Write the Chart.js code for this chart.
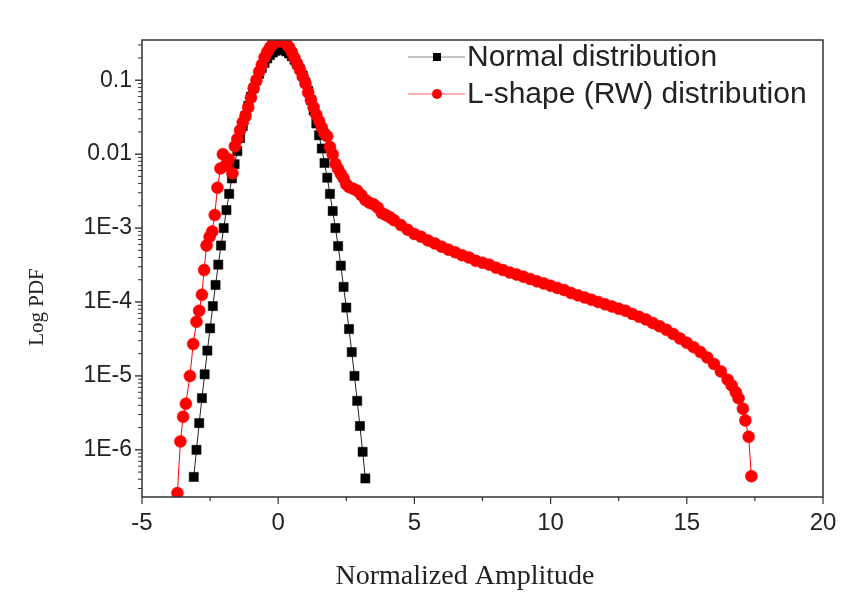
<!DOCTYPE html>
<html>
<head>
<meta charset="utf-8">
<script src="https://cdn.jsdelivr.net/npm/chart.js@4.4.1/dist/chart.umd.min.js"></script>
<style>
html, body { margin: 0; padding: 0; background: #fff; }
#wrap { width: 854px; height: 594px; }
</style>
</head>
<body>
<div id="wrap"><canvas id="pdfChart" width="854" height="594"></canvas></div>
<script>
// Normal distribution (black squares)
var normalX = [-3.1, -3.0, -2.9, -2.8, -2.7, -2.6, -2.5, -2.4, -2.3, -2.2, -2.1, -2.0, -1.9, -1.8, -1.7, -1.6,
    -1.5, -1.4, -1.3, -1.2, -1.1, -1.0, -0.9, -0.8, -0.7, -0.6, -0.5, -0.4, -0.3, -0.2, -0.1,
    0.0, 0.1, 0.2, 0.3, 0.4, 0.5, 0.6, 0.7, 0.8, 0.9, 1.0, 1.1, 1.2, 1.3, 1.4, 1.5, 1.6,
    1.7, 1.8, 1.9, 2.0, 2.1, 2.2, 2.3, 2.4, 2.5, 2.6, 2.7, 2.8, 2.9, 3.0, 3.1, 3.2];
var normalPdf = [4.3e-7, 1.0e-6, 2.3e-6, 5.0e-6, 1.05e-5, 2.2e-5, 4.4e-5, 8.8e-5, 1.7e-4, 3.2e-4, 5.8e-4, 1.0e-3, 1.75e-3, 2.9e-3, 4.7e-3, 7.3e-3,
    0.011, 0.0165, 0.024, 0.033, 0.045, 0.060, 0.078, 0.099, 0.122, 0.147, 0.172, 0.197, 0.219, 0.237, 0.250,
    0.258, 0.260, 0.255, 0.245, 0.230, 0.211, 0.189, 0.165, 0.140, 0.116, 0.093, 0.072, 0.054, 0.039, 0.026, 0.018, 0.0119,
    7.6e-3, 4.8e-3, 2.9e-3, 1.7e-3, 1.0e-3, 5.7e-4, 3.1e-4, 1.6e-4, 8.4e-5, 4.3e-5, 2.1e-5, 1.0e-5, 4.6e-6, 2.1e-6, 9.4e-7, 4.1e-7];

// L-shape (RW) distribution (red circles)
var rwX = [-3.70, -3.59, -3.49, -3.39, -3.24, -3.12, -3.00, -2.90, -2.80, -2.72, -2.63, -2.52, -2.42, -2.33, -2.23, -2.12,
    -2.03, -1.92, -1.82, -1.68, -1.59,
    -1.5, -1.4, -1.3, -1.2, -1.1, -1.0, -0.9, -0.8, -0.7, -0.6, -0.5, -0.4, -0.3, -0.2, -0.1,
    0.0, 0.1, 0.2, 0.3, 0.4, 0.5, 0.6, 0.7, 0.8, 0.9, 1.0, 1.1, 1.2, 1.3, 1.4, 1.5, 1.6, 1.7,
    1.8, 1.9, 2.0, 2.1, 2.2, 2.3, 2.4, 2.5, 2.6, 2.75, 2.9, 3.05, 3.2, 3.35, 3.5, 3.65, 3.8, 3.95, 4.1, 4.25,
    4.5, 4.75, 5.0, 5.25, 5.5, 5.75, 6.0, 6.25, 6.5, 6.75, 7.0, 7.25, 7.5, 7.75, 8.0, 8.25, 8.5, 8.75,
    9.0, 9.25, 9.5, 9.75, 10.0, 10.25, 10.5, 10.75, 11.0, 11.25, 11.5, 11.75, 12.0, 12.25, 12.5, 12.75,
    13.0, 13.25, 13.5, 13.75, 14.0, 14.25, 14.5, 14.75, 15.0, 15.25, 15.5, 15.75, 16.0, 16.25, 16.5,
    16.65, 16.8, 16.9, 17.06, 17.15, 17.27, 17.37];
var rwPdf = [2.6e-7, 1.3e-6, 2.8e-6, 4.2e-6, 1.0e-5, 2.7e-5, 5.4e-5, 7.6e-5, 1.25e-4, 2.7e-4, 5.8e-4, 7.6e-4, 9.0e-4, 1.5e-3, 3.5e-3, 6.4e-3,
    0.010, 7.0e-3, 8.5e-3, 5.5e-3, 0.0128,
    0.016, 0.021, 0.027, 0.033, 0.043, 0.058, 0.078, 0.100, 0.130, 0.162, 0.205, 0.243, 0.278, 0.310, 0.330,
    0.342, 0.340, 0.328, 0.310, 0.280, 0.240, 0.200, 0.165, 0.138, 0.112, 0.090, 0.068, 0.054, 0.043, 0.034, 0.028, 0.023, 0.019,
    0.0175, 0.0125, 0.0100, 0.0074, 0.0063, 0.0054, 0.0047, 0.0039, 0.0036, 0.0034, 0.0032, 0.0028, 0.0024, 0.0022, 0.0021, 0.0019, 0.0016, 0.0015, 0.0014, 0.00128,
    1.10e-3, 9.5e-4, 8.3e-4, 7.6e-4, 6.8e-4, 6.2e-4, 5.6e-4, 5.1e-4, 4.7e-4, 4.3e-4, 4.0e-4, 3.6e-4, 3.4e-4, 3.2e-4, 2.9e-4, 2.7e-4, 2.5e-4, 2.35e-4,
    2.2e-4, 2.05e-4, 1.9e-4, 1.78e-4, 1.66e-4, 1.55e-4, 1.45e-4, 1.32e-4, 1.23e-4, 1.15e-4, 1.07e-4, 1.0e-4, 9.3e-5, 8.7e-5, 8.1e-5, 7.6e-5,
    6.9e-5, 6.3e-5, 5.8e-5, 5.2e-5, 4.7e-5, 4.2e-5, 3.7e-5, 3.2e-5, 2.8e-5, 2.45e-5, 2.1e-5, 1.78e-5, 1.45e-5, 1.15e-5, 8.9e-6,
    7.4e-6, 6.0e-6, 5.0e-6, 3.6e-6, 2.5e-6, 1.5e-6, 4.4e-7];

// axis labels
var xTickValues = [-5, 0, 5, 10, 15, 20];
var yDecades = [-6, -5, -4, -3, -2, -1];
var yTickLabels = ['1E-6', '1E-5', '1E-4', '1E-3', '0.01', '0.1'];
var xTitle = 'Normalized Amplitude';
var yTitle = 'Log PDF';

function toPoints(xs, ys) {
    var pts = [];
    for (var i = 0; i < xs.length; i++) {
        pts.push({ x: xs[i], y: ys[i] });
    }
    return pts;
}

var axisColor = '#333';
var textColor = '#222';
var serif = "'Liberation Serif', 'Times New Roman', serif";

Chart.defaults.font.family = "'Liberation Sans', Arial, sans-serif";
Chart.defaults.color = textColor;

// frame round the plot, major/minor tick marks and the two axis titles
var framePlugin = {
    id: 'frame',
    afterDraw: function(chart) {
        var ctx = chart.ctx;
        var a = chart.chartArea;
        var xs = chart.scales.x;
        var ys = chart.scales.y;
        ctx.save();
        ctx.strokeStyle = axisColor;
        ctx.lineWidth = 1.5;
        ctx.strokeRect(a.left, a.top, a.right - a.left, a.bottom - a.top);

        ctx.lineWidth = 1.2;
        xs.ticks.forEach(function(t) {
            var px = xs.getPixelForValue(t.value);
            var len = (t.value % 5 === 0) ? 7 : 4;
            ctx.beginPath();
            ctx.moveTo(px, a.bottom);
            ctx.lineTo(px, a.bottom + len);
            ctx.stroke();
        });
        ys.ticks.forEach(function(t) {
            var py = ys.getPixelForValue(t.value);
            var e = Math.log10(t.value);
            var major = Math.abs(e - Math.round(e)) < 1e-6;
            ctx.lineWidth = major ? 1.4 : 1;
            ctx.beginPath();
            ctx.moveTo(a.left, py);
            ctx.lineTo(a.left - (major ? 7 : 4), py);
            ctx.stroke();
        });

        // axis titles (placed off-centre like the original figure)
        ctx.fillStyle = textColor;
        ctx.textAlign = 'center';
        ctx.textBaseline = 'middle';
        ctx.font = '28px ' + serif;
        ctx.fillText(xTitle, 465, 577);
        ctx.translate(37, 307);
        ctx.rotate(-Math.PI / 2);
        ctx.font = '21px ' + serif;
        ctx.fillText(yTitle, 0, 0);
        ctx.restore();
    }
};

// legend drawn inside the plot, line + marker + text like the original
var legendPlugin = {
    id: 'innerLegend',
    afterDraw: function(chart) {
        var ctx = chart.ctx;
        var rows = [57, 94];
        var x0 = 408, x1 = 465, xm = 437;
        ctx.save();
        chart.data.datasets.forEach(function(ds, i) {
            var y = rows[i];
            ctx.strokeStyle = ds.legendLine;
            ctx.lineWidth = 1;
            ctx.beginPath();
            ctx.moveTo(x0, y);
            ctx.lineTo(x1, y);
            ctx.stroke();
            ctx.fillStyle = ds.pointBackgroundColor;
            if (ds.pointStyle === 'rect') {
                ctx.fillRect(xm - 4, y - 4, 8, 8);
            } else {
                ctx.beginPath();
                ctx.arc(xm, y, 5, 0, Math.PI * 2);
                ctx.fill();
            }
            ctx.fillStyle = textColor;
            ctx.font = "30px 'Liberation Sans', Arial, sans-serif";
            ctx.textBaseline = 'middle';
            ctx.textAlign = 'left';
            ctx.fillText(ds.label, x1 + 2, y + 1);
        });
        ctx.restore();
    }
};

var ctx = document.getElementById('pdfChart').getContext('2d');
var chart = new Chart(ctx, {
    type: 'line',
    data: {
        datasets: [
            {
                label: 'Normal distribution',
                data: toPoints(normalX, normalPdf),
                borderColor: '#222',
                borderWidth: 1,
                legendLine: '#888',
                pointStyle: 'rect',
                pointRadius: 6.5,
                pointBackgroundColor: '#000',
                pointBorderColor: '#000',
                pointBorderWidth: 0.5,
                order: 2
            },
            {
                label: 'L-shape (RW) distribution',
                data: toPoints(rwX, rwPdf),
                borderColor: '#ff0000',
                borderWidth: 1,
                legendLine: '#ff6060',
                pointStyle: 'circle',
                pointRadius: 6,
                pointBackgroundColor: '#ff0000',
                pointBorderColor: '#ff0000',
                pointBorderWidth: 0.5,
                order: 1
            }
        ]
    },
    options: {
        responsive: false,
        animation: false,
        devicePixelRatio: 1,
        layout: {
            padding: { left: 0, right: 31, top: 40, bottom: 0 }
        },
        elements: { line: { tension: 0 } },
        scales: {
            x: {
                type: 'linear',
                min: -5,
                max: 20,
                grid: { display: false, drawTicks: false },
                border: { display: false },
                ticks: {
                    stepSize: 2.5,
                    autoSkip: false,
                    maxRotation: 0,
                    padding: 12,
                    font: { size: 24 },
                    color: textColor,
                    callback: function(value) {
                        return xTickValues.indexOf(value) >= 0 ? String(value) : '';
                    }
                },
                afterFit: function(scale) {
                    scale.height = 97;
                }
            },
            y: {
                type: 'logarithmic',
                min: 2.3e-7,
                max: 0.35,
                grid: { display: false, drawTicks: false },
                border: { display: false },
                afterBuildTicks: function(scale) {
                    var ticks = [];
                    for (var e = -7; e <= 0; e++) {
                        for (var m = 1; m < 10; m++) {
                            var v = m * Math.pow(10, e);
                            if (v >= scale.min && v <= scale.max) ticks.push({ value: v });
                        }
                    }
                    scale.ticks = ticks;
                },
                ticks: {
                    autoSkip: false,
                    padding: 10,
                    font: { size: 23 },
                    color: textColor,
                    callback: function(value) {
                        var e = Math.log10(value);
                        var r = Math.round(e);
                        if (Math.abs(e - r) > 1e-6) return '';
                        var k = yDecades.indexOf(r);
                        return k >= 0 ? yTickLabels[k] : '';
                    }
                },
                afterFit: function(scale) {
                    scale.width = 142;
                }
            }
        },
        plugins: {
            legend: { display: false },
            tooltip: { enabled: false }
        }
    },
    plugins: [framePlugin, legendPlugin]
});
</script>
</body>
</html>
